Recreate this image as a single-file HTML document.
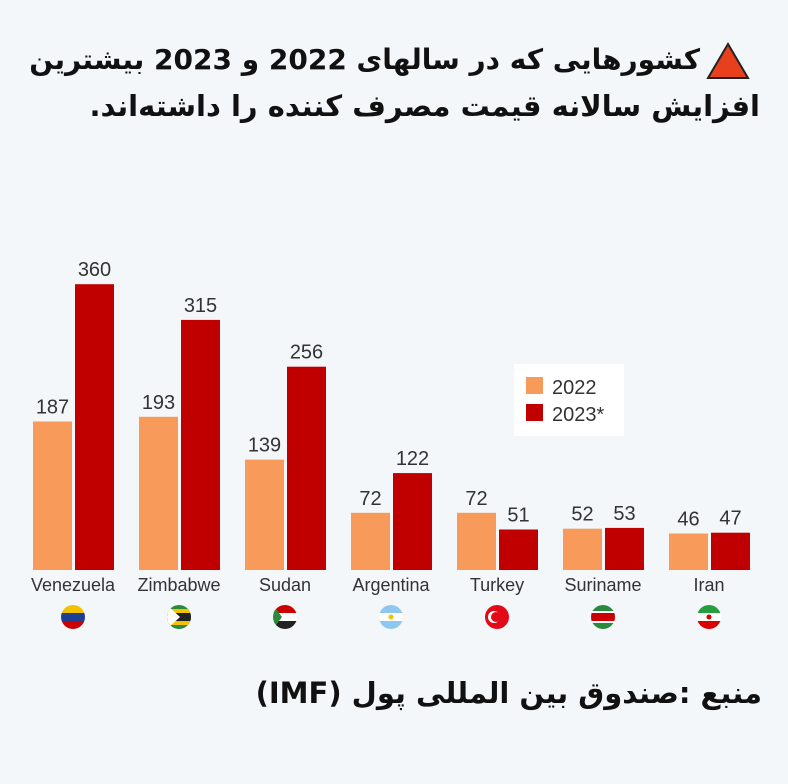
<!DOCTYPE html>
<html><head><meta charset="utf-8"><style>
body{margin:0;width:788px;height:784px;background:#f3f7fa;overflow:hidden;position:relative;font-family:"Liberation Sans","DejaVu Sans",sans-serif}
.t{position:absolute;right:28px;direction:rtl;font-family:"DejaVu Sans",sans-serif;font-weight:bold;font-size:29px;color:#111;white-space:nowrap}
</style></head><body>
<div class="t" style="top:43px;right:88px;font-size:28px">کشورهایی که در سالهای 2022 و 2023 بیشترین</div>
<div class="t" style="top:89px">افزایش سالانه قیمت مصرف کننده را داشته‌اند.</div>
<div class="t" style="top:676px;right:26px">منبع :صندوق بین المللی پول (IMF)</div>
<svg width="788" height="784" style="position:absolute;left:0;top:0" font-family="Liberation Sans,sans-serif">
<defs>
<clipPath id="c0"><circle cx="73" cy="617" r="12"/></clipPath>
<clipPath id="c1"><circle cx="179" cy="617" r="12"/></clipPath>
<clipPath id="c2"><circle cx="285" cy="617" r="12"/></clipPath>
<clipPath id="c3"><circle cx="391" cy="617" r="12"/></clipPath>
<clipPath id="c5"><circle cx="603" cy="617" r="12"/></clipPath>
<clipPath id="c6"><circle cx="709" cy="617" r="12"/></clipPath>
</defs>
<polygon points="728,44 708,78 748,78" fill="#e8401c" stroke="#222" stroke-width="2"/>
<rect x="514" y="364" width="110" height="72" fill="#fff"/>
<rect x="526" y="377" width="17" height="17" fill="#f89a5a"/>
<rect x="526" y="404" width="17" height="17" fill="#c00000"/>
<text x="552" y="394" font-size="20" fill="#333">2022</text>
<text x="552" y="421" font-size="20" fill="#333">2023*</text>
<g fill="#f89a5a">
<rect x="33" y="421.5" width="39" height="148.5"/>
<rect x="139" y="416.8" width="39" height="153.2"/>
<rect x="245" y="459.6" width="39" height="110.4"/>
<rect x="351" y="512.8" width="39" height="57.2"/>
<rect x="457" y="512.8" width="39" height="57.2"/>
<rect x="563" y="528.7" width="39" height="41.3"/>
<rect x="669" y="533.5" width="39" height="36.5"/>
</g>
<g fill="#c00000">
<rect x="75" y="284.2" width="39" height="285.8"/>
<rect x="181" y="319.9" width="39" height="250.1"/>
<rect x="287" y="366.7" width="39" height="203.3"/>
<rect x="393" y="473.1" width="39" height="96.9"/>
<rect x="499" y="529.5" width="39" height="40.5"/>
<rect x="605" y="527.9" width="39" height="42.1"/>
<rect x="711" y="532.7" width="39" height="37.3"/>
</g>
<g font-size="20" fill="#333" text-anchor="middle">
<text x="52.5" y="413.5">187</text><text x="94.5" y="276.2">360</text>
<text x="158.5" y="408.8">193</text><text x="200.5" y="311.9">315</text>
<text x="264.5" y="451.6">139</text><text x="306.5" y="358.7">256</text>
<text x="370.5" y="504.8">72</text><text x="412.5" y="465.1">122</text>
<text x="476.5" y="504.8">72</text><text x="518.5" y="521.5">51</text>
<text x="582.5" y="520.7">52</text><text x="624.5" y="519.9">53</text>
<text x="688.5" y="525.5">46</text><text x="730.5" y="524.7">47</text>
</g>
<g font-size="18" fill="#333" text-anchor="middle">
<text x="73" y="591">Venezuela</text><text x="179" y="591">Zimbabwe</text><text x="285" y="591">Sudan</text>
<text x="391" y="591">Argentina</text><text x="497" y="591">Turkey</text><text x="603" y="591">Suriname</text><text x="709" y="591">Iran</text>
</g>
<g clip-path="url(#c0)"><rect x="61" y="605" width="24" height="8" fill="#f2c200"/><rect x="61" y="613" width="24" height="8" fill="#1c3f94"/><rect x="61" y="621" width="24" height="8" fill="#c00"/></g>
<g clip-path="url(#c1)"><rect x="167" y="605" width="24" height="24" fill="#2a8a3a"/><rect x="167" y="609" width="24" height="4" fill="#f2c200"/><rect x="167" y="613" width="24" height="8" fill="#222"/><rect x="167" y="621" width="24" height="4" fill="#f2c200"/><polygon points="167,605 180,617 167,629" fill="#fff"/></g>
<g clip-path="url(#c2)"><rect x="273" y="605" width="24" height="8" fill="#c00"/><rect x="273" y="613" width="24" height="8" fill="#fff"/><rect x="273" y="621" width="24" height="8" fill="#222"/><polygon points="273,605 282,617 273,629" fill="#2a8a3a"/></g>
<g clip-path="url(#c3)"><rect x="379" y="605" width="24" height="24" fill="#8fc8ee"/><rect x="379" y="613" width="24" height="8" fill="#fff"/><circle cx="391" cy="617" r="2.5" fill="#f2c200"/></g>
<circle cx="497" cy="617" r="12" fill="#e30a17"/><circle cx="494" cy="617" r="6" fill="#fff"/><circle cx="496" cy="617" r="5" fill="#e30a17"/>
<g clip-path="url(#c5)"><rect x="591" y="605" width="24" height="24" fill="#2a8a3a"/><rect x="591" y="611" width="24" height="12" fill="#fff"/><rect x="591" y="613" width="24" height="8" fill="#c00"/></g>
<g clip-path="url(#c6)"><rect x="697" y="605" width="24" height="8" fill="#239f40"/><rect x="697" y="613" width="24" height="8" fill="#fff"/><rect x="697" y="621" width="24" height="8" fill="#da0000"/><circle cx="709" cy="617" r="2.5" fill="#da0000"/></g>
</svg>
</body></html>
